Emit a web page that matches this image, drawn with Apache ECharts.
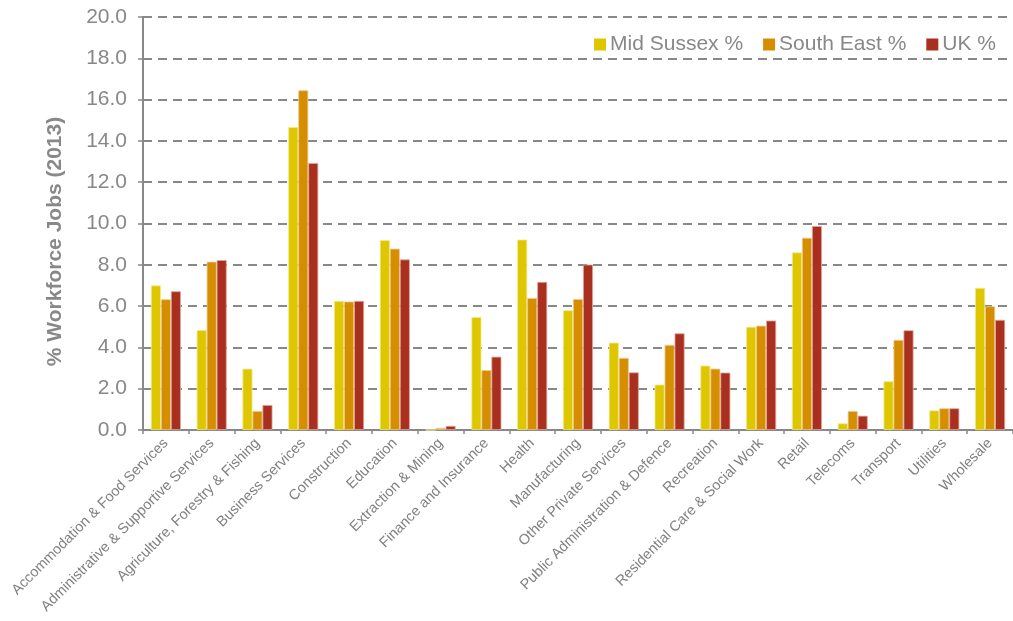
<!DOCTYPE html>
<html>
<head>
<meta charset="utf-8">
<script src="https://cdn.jsdelivr.net/npm/echarts@6/dist/echarts.min.js"></script>
<style>
html, body { margin: 0; padding: 0; background: #fff; }
#chart { width: 1013px; height: 621px; }
</style>
</head>
<body>
<div id="chart"></div>
<script>
var categories = [
	'Accommodation & Food Services', 'Administrative & Supportive Services',
	'Agriculture, Forestry & Fishing', 'Business Services', 'Construction',
	'Education', 'Extraction & Mining', 'Finance and Insurance', 'Health',
	'Manufacturing', 'Other Private Services', 'Public Administration & Defence',
	'Recreation', 'Residential Care & Social Work', 'Retail', 'Telecoms',
	'Transport', 'Utilities', 'Wholesale'
];
var midSussex = [7.0, 4.84, 2.97, 14.67, 6.25, 9.2, 0.0, 5.47, 9.22, 5.8, 4.23, 2.2, 3.12, 5.0, 8.6, 0.32, 2.36, 0.95, 6.88];
var southEast = [6.33, 8.15, 0.92, 16.45, 6.22, 8.78, 0.1, 2.9, 6.39, 6.34, 3.49, 4.12, 2.97, 5.05, 9.31, 0.92, 4.36, 1.05, 5.99];
var uk = [6.72, 8.23, 1.21, 12.93, 6.25, 8.26, 0.2, 3.55, 7.17, 8.01, 2.79, 4.68, 2.78, 5.3, 9.88, 0.69, 4.83, 1.05, 5.33];

var seriesNames = ['Mid Sussex %', 'South East %', 'UK %'];
var colours = ['#DEC700', '#D58E00', '#A9301F'];
var edges = ['#F3E88A', '#EFC98A', '#E0A79E'];

var font = 'Liberation Sans, Arial, sans-serif';
var grey = '#888888';

var chart = echarts.init(document.getElementById('chart'));

function bar(i, data)
{
	return {
		name: seriesNames[i],
		type: 'bar',
		data: data,
		barWidth: 10,
		barGap: '0%',
		itemStyle: { color: colours[i], borderColor: edges[i], borderWidth: 0.8 },
		emphasis: { disabled: true }
	};
}

var options =
{
	animation: false,
	textStyle: { fontFamily: font },
	legend:
	{
		top: 29,
		right: 12,
		itemWidth: 12,
		itemHeight: 12,
		itemGap: 20,
		icon: 'rect',
		itemStyle: { borderWidth: 0 },
		textStyle: { fontSize: 21, color: grey, fontFamily: font, padding: [0, 0, 0, -1] },
		data: seriesNames
	},
	grid: { left: 143, right: -3, top: 17, bottom: 191, containLabel: false },
	xAxis:
	{
		type: 'category',
		data: categories,
		axisLine: { lineStyle: { color: grey, width: 2 } },
		axisTick: { show: true, length: 4, lineStyle: { color: grey, width: 1.5 } },
		axisLabel: { rotate: 45, interval: 0, fontSize: 14.5, color: '#808080', margin: 11, fontFamily: font }
	},
	yAxis:
	{
		type: 'value',
		min: 0,
		max: 20,
		interval: 2,
		name: '% Workforce Jobs (2013)',
		nameLocation: 'middle',
		nameGap: 77,
		nameRotate: 90,
		nameTextStyle: { fontSize: 21, fontWeight: 'bold', color: grey, fontFamily: font, padding: [0, 36, 0, 0] },
		axisLine: { show: true, lineStyle: { color: grey, width: 2 } },
		axisTick: { show: true, length: 5, lineStyle: { color: grey, width: 1.5 } },
		axisLabel: { fontSize: 21, color: grey, margin: 16, fontFamily: font, formatter: function(v) { return v.toFixed(1); } },
		splitLine: { show: true, lineStyle: { color: grey, width: 2, type: [9, 6] } }
	},
	series: [ bar(0, midSussex), bar(1, southEast), bar(2, uk) ]
};

chart.setOption(options);
</script>
</body>
</html>
